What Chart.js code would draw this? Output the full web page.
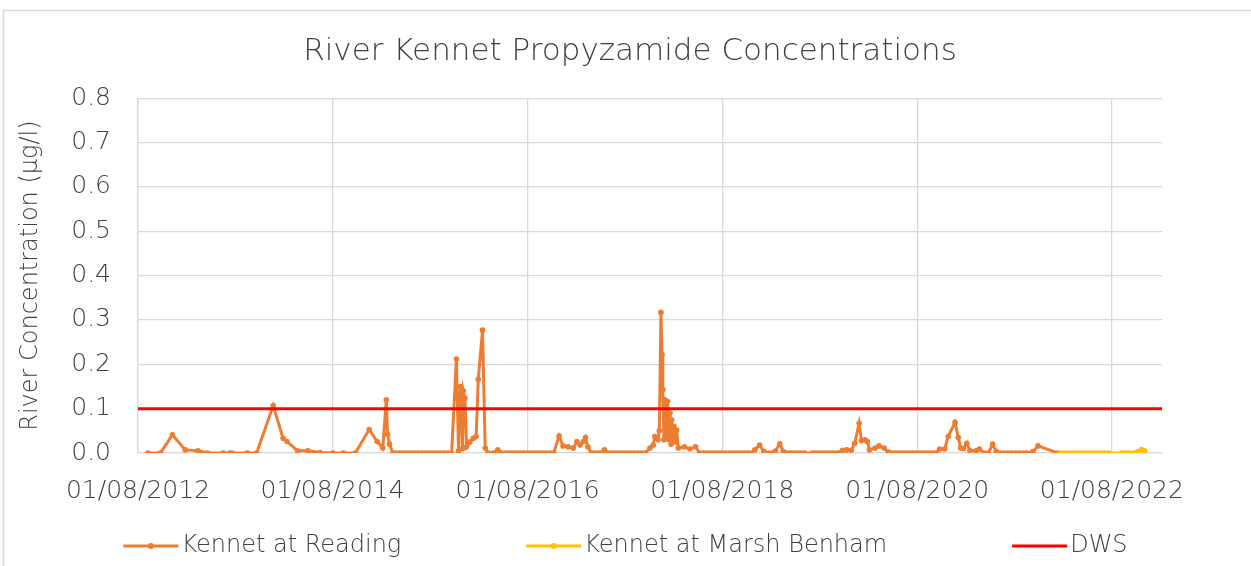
<!DOCTYPE html>
<html>
<head>
<meta charset="utf-8">
<title>River Kennet Propyzamide Concentrations</title>
<script src="https://cdn.jsdelivr.net/npm/chart.js@4.4.1/dist/chart.umd.min.js"></script>
<style>
  html, body { margin: 0; padding: 0; background: #fff; }
  #wrap { width: 1251px; height: 566px; }
</style>
</head>
<body>
<div id="wrap"><canvas id="chart" width="1251" height="566"></canvas></div>
<script>
//Kennet at Reading samples (dd/mm/yyyy)
const readingDates = [
  '08/09/2012', '24/10/2012', '08/12/2012', '25/01/2013', '14/03/2013', '18/04/2013', '17/06/2013', '11/07/2013', '20/07/2013',
  '15/09/2013', '20/10/2013', '21/12/2013', '27/01/2014', '11/02/2014', '22/03/2014', '30/04/2014', '15/06/2014',
  '02/08/2014', '10/09/2014', '25/10/2014', '16/12/2014', '15/01/2015', '05/02/2015', '18/02/2015', '23/02/2015', '02/03/2015', '15/03/2015',
  '25/03/2015', '08/04/2015', '22/04/2015', '06/05/2015', '20/05/2015', '03/06/2015', '17/06/2015', '01/07/2015',
  '15/07/2015', '29/07/2015', '12/08/2015', '26/08/2015', '09/09/2015', '23/09/2015', '07/10/2015', '21/10/2015',
  '08/11/2015', '16/11/2015', '23/11/2015', '27/11/2015', '01/12/2015', '04/12/2015', '10/12/2015', '16/12/2015', '29/12/2015',
  '10/01/2016', '21/01/2016', '29/01/2016', '14/02/2016', '24/02/2016', '06/03/2016', '25/03/2016', '11/04/2016', '25/04/2016',
  '09/05/2016', '23/05/2016', '06/06/2016', '20/06/2016', '04/07/2016', '18/07/2016', '01/08/2016',
  '15/08/2016', '29/08/2016', '12/09/2016', '26/09/2016', '10/10/2016', '24/10/2016', '07/11/2016',
  '27/11/2016', '12/12/2016', '31/12/2016', '19/01/2017', '02/02/2017', '14/02/2017', '26/02/2017', '06/03/2017', '15/03/2017',
  '28/03/2017', '09/04/2017', '22/04/2017', '04/05/2017', '16/05/2017', '29/05/2017',
  '12/06/2017', '26/06/2017', '10/07/2017', '24/07/2017', '07/08/2017', '21/08/2017', '04/09/2017', '18/09/2017', '02/10/2017', '16/10/2017',
  '03/11/2017', '15/11/2017', '21/11/2017', '03/12/2017', '08/12/2017', '14/12/2017', '18/12/2017', '21/12/2017', '25/12/2017', '29/12/2017',
  '04/01/2018', '08/01/2018', '13/01/2018', '17/01/2018', '21/01/2018', '23/01/2018', '28/01/2018', '01/02/2018', '07/02/2018', '11/02/2018',
  '17/02/2018', '12/03/2018', '01/04/2018', '23/04/2018', '08/05/2018',
  '22/05/2018', '05/06/2018', '19/06/2018', '03/07/2018', '17/07/2018', '31/07/2018', '14/08/2018',
  '28/08/2018', '11/09/2018', '25/09/2018', '09/10/2018', '23/10/2018', '06/11/2018', '20/11/2018',
  '01/12/2018', '19/12/2018', '04/01/2019', '26/01/2019', '15/02/2019', '05/03/2019', '18/03/2019',
  '03/04/2019', '15/04/2019', '28/04/2019', '11/05/2019', '24/05/2019', '06/06/2019',
  '05/07/2019', '18/07/2019', '31/07/2019', '13/08/2019', '26/08/2019', '08/09/2019', '21/09/2019', '04/10/2019',
  '26/10/2019', '11/11/2019', '28/11/2019', '11/12/2019', '27/12/2019', '05/01/2020', '18/01/2020', '27/01/2020', '04/02/2020',
  '25/02/2020', '11/03/2020', '30/03/2020', '14/04/2020',
  '27/04/2020', '10/05/2020', '23/05/2020', '05/06/2020', '18/06/2020', '01/07/2020', '14/07/2020',
  '28/07/2020', '10/08/2020', '23/08/2020', '05/09/2020', '18/09/2020', '01/10/2020', '12/10/2020',
  '24/10/2020', '12/11/2020', '25/11/2020', '21/12/2020', '02/01/2021', '11/01/2021', '21/01/2021', '03/02/2021', '15/02/2021',
  '10/03/2021', '22/03/2021', '10/04/2021', '25/04/2021', '11/05/2021', '24/05/2021',
  '06/06/2021', '21/06/2021', '06/07/2021', '21/07/2021', '05/08/2021', '20/08/2021', '04/09/2021', '15/09/2021',
  '09/10/2021', '28/10/2021', '10/01/2022'
];
const readingValues = [
  0, 0, 0.041, 0.007, 0.005, 0, 0, 0, 0,
  0, 0, 0.107, 0.033, 0.026, 0.005, 0.005, 0.001,
  0, 0, 0, 0.053, 0.026, 0.011, 0.12, 0.042, 0.02, 0,
  0, 0, 0, 0, 0, 0, 0, 0,
  0, 0, 0, 0, 0, 0, 0, 0,
  0.212, 0.005, 0.15, 0.12, 0.01, 0.14, 0.124, 0.014, 0.025,
  0.033, 0.037, 0.166, 0.277, 0.011, 0, 0, 0.007, 0,
  0, 0, 0, 0, 0, 0, 0,
  0, 0, 0, 0, 0, 0, 0,
  0.038, 0.016, 0.014, 0.011, 0.026, 0.018, 0.026, 0.035, 0.014,
  0, 0, 0, 0, 0.007, 0,
  0, 0, 0, 0, 0, 0, 0, 0, 0, 0,
  0.011, 0.018, 0.037, 0.03, 0.05, 0.317, 0.222, 0.143, 0.03, 0.12,
  0.04, 0.116, 0.03, 0.09, 0.02, 0.075, 0.035, 0.06, 0.025, 0.052,
  0.011, 0.014, 0.009, 0.014, 0,
  0, 0, 0, 0, 0, 0, 0,
  0, 0, 0, 0, 0, 0, 0,
  0.007, 0.018, 0.003, 0, 0.004, 0.021, 0.003,
  0, 0, 0, 0, 0, 0,
  0, 0, 0, 0, 0, 0, 0, 0,
  0.006, 0.007, 0.006, 0.022, 0.067, 0.028, 0.03, 0.026, 0.007,
  0.011, 0.016, 0.011, 0.002,
  0, 0, 0, 0, 0, 0, 0,
  0, 0, 0, 0, 0, 0, 0,
  0.009, 0.009, 0.037, 0.069, 0.035, 0.011, 0.01, 0.022, 0.005,
  0.005, 0.009, 0, 0, 0.02, 0.004,
  0, 0, 0, 0, 0, 0, 0, 0,
  0.003, 0.016, 0
];

//Kennet at Marsh Benham samples
const marshDates = [
  '21/01/2022', '05/02/2022', '20/02/2022', '07/03/2022', '22/03/2022', '06/04/2022', '21/04/2022',
  '06/05/2022', '21/05/2022', '05/06/2022', '20/06/2022', '05/07/2022', '20/07/2022',
  '07/09/2022', '22/09/2022', '07/10/2022', '22/10/2022', '06/11/2022', '20/11/2022', '02/12/2022'
];
const marshValues = [
  0, 0, 0, 0, 0, 0, 0,
  0, 0, 0, 0, 0, 0,
  0, 0, 0, 0, 0.003, 0.008, 0.005
];

//Drinking water standard line
const dwsDates = ['01/08/2012', '05/02/2023'];
const dwsValues = [0.1, 0.1];

//Axis labels
const xTickLabels = ['01/08/2012', '01/08/2014', '01/08/2016', '01/08/2018', '01/08/2020', '01/08/2022'];
const xAxisEnd = '05/02/2023';
const yMax = 0.8;
const yStep = 0.1;

const textColor = '#404040';
const gridColor = '#d9d9d9';
const fontWeight = 300;

function parseDate(s) {
  const [d, m, y] = s.split('/').map(Number);
  return Date.UTC(y, m - 1, d);
}

function formatDate(v) {
  const d = new Date(v);
  const pad = n => String(n).padStart(2, '0');
  return pad(d.getUTCDate()) + '/' + pad(d.getUTCMonth() + 1) + '/' + d.getUTCFullYear();
}

function toPoints(dates, values) {
  return dates.map((d, i) => ({ x: parseDate(d), y: values[i] }));
}

//grey frame round the whole chart, like the spreadsheet chart box
const framePlugin = {
  id: 'frame',
  beforeDraw(chart) {
    const ctx = chart.ctx;
    ctx.save();
    ctx.fillStyle = '#fff';
    ctx.fillRect(0, 0, chart.width, chart.height);
    ctx.strokeStyle = gridColor;
    ctx.lineWidth = 1.5;
    ctx.strokeRect(3.5, 10.5, 1400, 700);
    ctx.restore();
  }
};

//legend drawn as line samples with a marker, spaced out across the bottom
const legendPlugin = {
  id: 'lineLegend',
  afterDraw(chart) {
    const ctx = chart.ctx;
    const items = chart.data.datasets.map(ds => ({
      label: ds.label,
      color: ds.borderColor,
      marker: ds.pointRadius > 0
    }));
    const sample = 55, gap = 3, spacing = 125, y = 546;
    ctx.save();
    ctx.font = fontWeight + ' 24px "DejaVu Sans", sans-serif';
    const widths = items.map(it => sample + gap + ctx.measureText(it.label).width);
    const total = widths.reduce((a, b) => a + b, 0) + spacing * (items.length - 1);
    let x = (chart.width - total) / 2;
    items.forEach((it, i) => {
      ctx.strokeStyle = it.color;
      ctx.lineWidth = 3;
      ctx.beginPath();
      ctx.moveTo(x, y);
      ctx.lineTo(x + sample, y);
      ctx.stroke();
      if (it.marker) {
        ctx.fillStyle = it.color;
        ctx.beginPath();
        ctx.arc(x + sample / 2, y, 3, 0, Math.PI * 2);
        ctx.fill();
      }
      ctx.fillStyle = textColor;
      ctx.textAlign = 'left';
      ctx.textBaseline = 'middle';
      ctx.fillText(it.label, x + sample + gap, y);
      x += widths[i] + spacing;
    });
    ctx.restore();
  }
};

Chart.defaults.font.family = '"DejaVu Sans", sans-serif';
Chart.defaults.font.weight = fontWeight;
Chart.defaults.color = textColor;

const ctx = document.getElementById('chart');

new Chart(ctx, {
  type: 'line',
  data: {
    datasets: [{
      label: 'Kennet at Reading',
      data: toPoints(readingDates, readingValues),
      borderColor: '#ED7D31',
      backgroundColor: '#ED7D31',
      borderWidth: 3,
      pointRadius: 2.8,
      pointBorderWidth: 0,
      pointHoverRadius: 2.8,
      order: 2
    }, {
      label: 'Kennet at Marsh Benham',
      data: toPoints(marshDates, marshValues),
      borderColor: '#FFC000',
      backgroundColor: '#FFC000',
      borderWidth: 3,
      pointRadius: 2.8,
      pointBorderWidth: 0,
      pointHoverRadius: 2.8,
      order: 1
    }, {
      label: 'DWS',
      data: toPoints(dwsDates, dwsValues),
      borderColor: '#FF0000',
      backgroundColor: '#FF0000',
      borderWidth: 3,
      pointRadius: 0,
      order: 0
    }]
  },
  options: {
    responsive: false,
    animation: false,
    layout: {
      padding: { top: 33, left: 9, right: 0, bottom: 60 }
    },
    scales: {
      x: {
        type: 'linear',
        min: parseDate(xTickLabels[0]),
        max: parseDate(xAxisEnd),
        afterBuildTicks: scale => {
          scale.ticks = xTickLabels.map(t => ({ value: parseDate(t) }));
        },
        afterFit: scale => { scale.height = 53; },
        ticks: {
          autoSkip: false,
          maxRotation: 0,
          padding: 23,
          font: { size: 25 },
          color: textColor,
          callback: v => formatDate(v)
        },
        grid: { color: gridColor, lineWidth: 1.3, drawTicks: false },
        border: { color: gridColor, width: 1.3 }
      },
      y: {
        min: 0,
        max: yMax,
        afterFit: scale => { scale.width = 129; },
        ticks: {
          stepSize: yStep,
          padding: 27,
          font: { size: 25 },
          color: textColor,
          callback: v => Number(v).toFixed(1)
        },
        grid: { color: gridColor, lineWidth: 1.3, drawTicks: false },
        border: { color: gridColor, width: 1.3 },
        title: {
          display: true,
          text: 'River Concentration (µg/l)',
          font: { size: 24 },
          color: textColor,
          padding: { top: 7, bottom: 0 }
        }
      },
      //empty right-hand axis that only reserves the margin right of the plot
      yRight: {
        position: 'right',
        display: true,
        min: 0,
        max: yMax,
        afterFit: scale => { scale.width = 89; },
        ticks: { display: false },
        grid: { display: false, drawTicks: false },
        border: { display: false }
      }
    },
    plugins: {
      legend: { display: false },
      tooltip: { enabled: false },
      title: {
        display: true,
        text: 'River Kennet Propyzamide Concentrations',
        font: { size: 31, weight: fontWeight },
        color: textColor,
        padding: { top: 0, bottom: 28 }
      }
    }
  },
  plugins: [framePlugin, legendPlugin]
});
</script>
</body>
</html>
